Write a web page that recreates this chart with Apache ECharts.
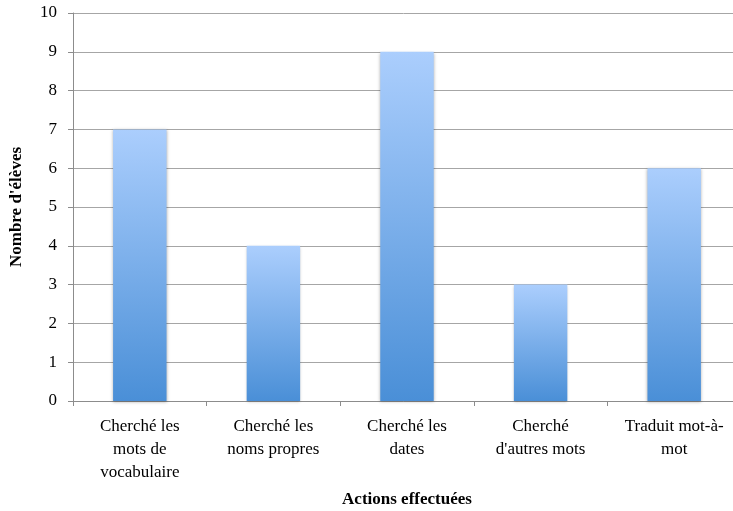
<!DOCTYPE html>
<html>
<head>
<meta charset="utf-8">
<script src="https://cdn.jsdelivr.net/npm/echarts@6/dist/echarts.min.js"></script>
<style>
  html, body { margin: 0; padding: 0; background: #fff; }
  #myChart { width: 733px; height: 511px; }
</style>
</head>
<body>
<div id="myChart"></div>
<script>
// categories (line breaks as in the original)
const categories = [
  'Cherché les\nmots de\nvocabulaire',
  'Cherché les\nnoms propres',
  'Cherché les\ndates',
  'Cherché\nd\'autres mots',
  'Traduit mot-à-\nmot'
];
const eleves = [7, 4, 9, 3, 6];
const yTicks = [0, 10, 1]; // min, max, interval

const font = "'Liberation Serif', serif";

const option = {
  animation: false,
  grid: { left: 73, right: -8, top: 13, bottom: 110, containLabel: false, outerBoundsMode: 'none' },
  xAxis: {
    type: 'category',
    data: categories,
    name: 'Actions effectuées',
    nameLocation: 'middle',
    nameGap: 90,
    nameTextStyle: { fontFamily: font, fontSize: 17, fontWeight: 'bold', color: '#000' },
    axisLine: { lineStyle: { color: '#8c8c8c', width: 1 } },
    axisTick: { show: true, length: 5, lineStyle: { color: '#8c8c8c' } },
    axisLabel: { fontFamily: font, fontSize: 17, color: '#000', margin: 14, lineHeight: 23, interval: 0 }
  },
  yAxis: {
    type: 'value',
    min: yTicks[0],
    max: yTicks[1],
    interval: yTicks[2],
    name: "Nombre d'élèves",
    nameLocation: 'middle',
    nameGap: 48,
    nameRotate: 90,
    nameTextStyle: { fontFamily: font, fontSize: 17, fontWeight: 'bold', color: '#000' },
    axisLine: { show: true, lineStyle: { color: '#8c8c8c', width: 1 } },
    axisTick: { show: true, length: 5, lineStyle: { color: '#8c8c8c' } },
    axisLabel: { fontFamily: font, fontSize: 17, color: '#000', margin: 16 },
    splitLine: { show: true, lineStyle: { color: '#a6a6a6', width: 1 } }
  },
  series: [{
    type: 'bar',
    data: eleves,
    barWidth: '40%',
    itemStyle: {
      color: new echarts.graphic.LinearGradient(0, 0, 0, 1, [
        { offset: 0, color: '#abcefd' },
        { offset: 1, color: '#4a8fd7' }
      ]),
      shadowColor: 'rgba(0,0,0,0.3)',
      shadowBlur: 3,
      shadowOffsetY: 1
    }
  }]
};

const myChart = echarts.init(document.getElementById('myChart'));
myChart.setOption(option);
</script>
</body>
</html>
